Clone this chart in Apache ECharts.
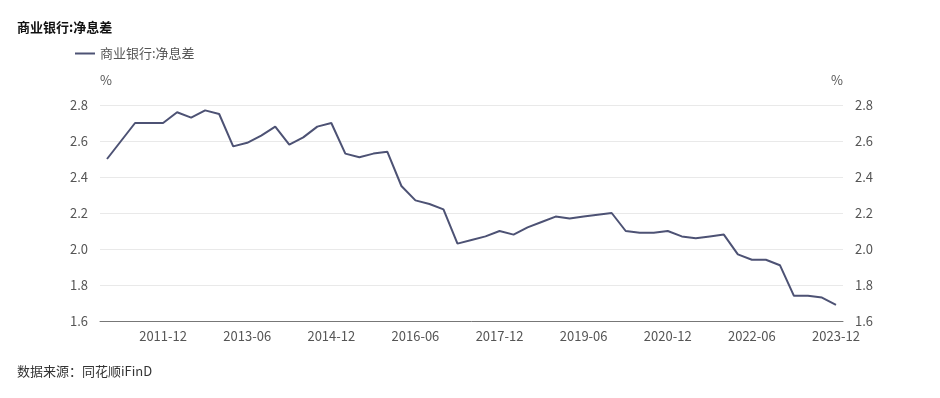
<!DOCTYPE html>
<html>
<head>
<meta charset="utf-8">
<script src="https://cdn.jsdelivr.net/npm/echarts@6/dist/echarts.min.js"></script>
<style>
html,body{margin:0;padding:0;background:#fff;}
#c{width:940px;height:398px;}
</style>
</head>
<body>
<div id="c"></div>
<script>
var categories = ['2010-12',
'2011-03','2011-06','2011-09','2011-12',
'2012-03','2012-06','2012-09','2012-12',
'2013-03','2013-06','2013-09','2013-12',
'2014-03','2014-06','2014-09','2014-12',
'2015-03','2015-06','2015-09','2015-12',
'2016-03','2016-06','2016-09','2016-12',
'2017-03','2017-06','2017-09','2017-12',
'2018-03','2018-06','2018-09','2018-12',
'2019-03','2019-06','2019-09','2019-12',
'2020-03','2020-06','2020-09','2020-12',
'2021-03','2021-06','2021-09','2021-12',
'2022-03','2022-06','2022-09','2022-12',
'2023-03','2023-06','2023-09','2023-12'];
var nimValues = [2.50,
2.60,2.70,2.70,2.70,
2.76,2.73,2.77,2.75,
2.57,2.59,2.63,2.68,
2.58,2.62,2.68,2.70,
2.53,2.51,2.53,2.54,
2.35,2.27,2.25,2.22,
2.03,2.05,2.07,2.10,
2.08,2.12,2.15,2.18,
2.17,2.18,2.19,2.20,
2.10,2.09,2.09,2.10,
2.07,2.06,2.07,2.08,
1.97,1.94,1.94,1.91,
1.74,1.74,1.73,1.69];
var seriesName = '商业银行:净息差';
var titleText = '商业银行:净息差';
var sourceText = '数据来源：同花顺iFinD';
var unitName = '%';

var font = '"Noto Sans CJK SC", "Noto Sans", sans-serif';
var chart = echarts.init(document.getElementById('c'), null, {renderer: 'canvas'});
var yAxisBase = {
  type: 'value', min: 1.6, max: 2.8, interval: 0.2,
  name: unitName, nameGap: 18,
  axisLine: {show: false}, axisTick: {show: false},
  axisLabel: {color: '#555', fontSize: 13, fontFamily: font, margin: 12,
    formatter: function (v) { return v.toFixed(1); }},
  splitLine: {lineStyle: {color: '#e9e9e9', width: 1}}
};
chart.setOption({
  animation: false,
  backgroundColor: '#fff',
  textStyle: {fontFamily: font},
  title: {text: titleText, left: 17, top: 21, padding: 0,
    textStyle: {fontSize: 13, fontWeight: 'bold', color: '#111', fontFamily: font}},
  legend: {left: 75, top: 47, padding: 0, itemWidth: 20, itemHeight: 2, itemGap: 6,
    icon: 'rect',
    textStyle: {fontSize: 13, color: '#555', fontFamily: font},
    data: [seriesName]},
  grid: {left: 100, right: 97, top: 105, bottom: 77, containLabel: false},
  xAxis: {
    type: 'category', data: categories, boundaryGap: true,
    axisLine: {lineStyle: {color: '#777', width: 1}},
    axisTick: {show: false},
    axisLabel: {color: '#555', fontSize: 13, fontFamily: font, margin: 9,
      interval: function (idx) { return (idx - 4) % 6 === 0 && idx >= 4; }}
  },
  yAxis: [
    Object.assign({}, yAxisBase, {position: 'left',
      nameTextStyle: {color: '#555', fontSize: 13, align: 'left', fontFamily: font}}),
    Object.assign({}, yAxisBase, {position: 'right',
      nameTextStyle: {color: '#555', fontSize: 13, align: 'right', fontFamily: font}})
  ],
  series: [{
    name: seriesName, type: 'line', data: nimValues, yAxisIndex: 0,
    showSymbol: false, symbol: 'none',
    lineStyle: {color: '#4d5274', width: 2},
    itemStyle: {color: '#4d5274'}
  }],
  graphic: [{
    type: 'text', left: 17, top: 365,
    style: {text: sourceText, fontSize: 13, fill: '#333', fontFamily: font}
  }]
});
</script>
</body>
</html>
